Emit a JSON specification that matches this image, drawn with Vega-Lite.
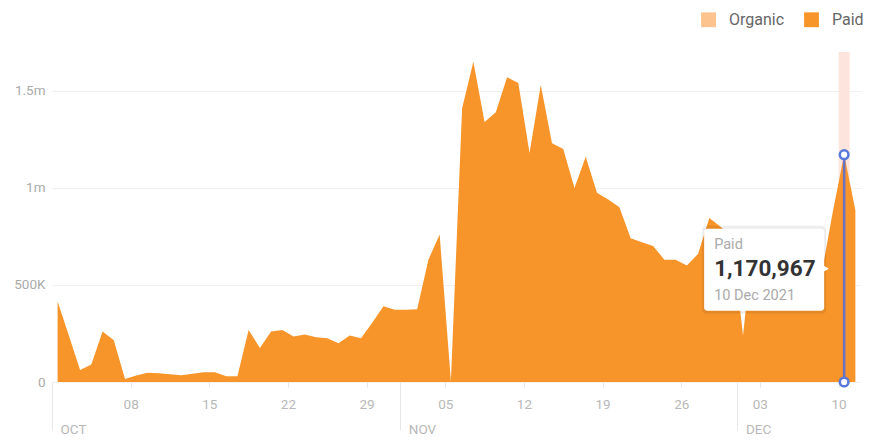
{
  "$schema": "https://vega.github.io/schema/vega-lite/v6.json",
  "width": 809,
  "height": 330,
  "autosize": {"type": "none"},
  "padding": {"left": 52, "top": 52, "right": 20, "bottom": 59},
  "background": "white",
  "config": {
    "view": {"stroke": null},
    "font": "Roboto"
  },
  "datasets": {
    "traffic": [
      {"date": "2021-10-01T12:00", "channel": "Paid", "visits": 415000},
      {"date": "2021-10-02T12:00", "channel": "Paid", "visits": 240000},
      {"date": "2021-10-03T12:00", "channel": "Paid", "visits": 62000},
      {"date": "2021-10-04T12:00", "channel": "Paid", "visits": 90000},
      {"date": "2021-10-05T12:00", "channel": "Paid", "visits": 260000},
      {"date": "2021-10-06T12:00", "channel": "Paid", "visits": 215000},
      {"date": "2021-10-07T12:00", "channel": "Paid", "visits": 15000},
      {"date": "2021-10-08T12:00", "channel": "Paid", "visits": 33000},
      {"date": "2021-10-09T12:00", "channel": "Paid", "visits": 48000},
      {"date": "2021-10-10T12:00", "channel": "Paid", "visits": 45000},
      {"date": "2021-10-11T12:00", "channel": "Paid", "visits": 40000},
      {"date": "2021-10-12T12:00", "channel": "Paid", "visits": 35000},
      {"date": "2021-10-13T12:00", "channel": "Paid", "visits": 42000},
      {"date": "2021-10-14T12:00", "channel": "Paid", "visits": 50000},
      {"date": "2021-10-15T12:00", "channel": "Paid", "visits": 50000},
      {"date": "2021-10-16T12:00", "channel": "Paid", "visits": 30000},
      {"date": "2021-10-17T12:00", "channel": "Paid", "visits": 30000},
      {"date": "2021-10-18T12:00", "channel": "Paid", "visits": 268000},
      {"date": "2021-10-19T12:00", "channel": "Paid", "visits": 175000},
      {"date": "2021-10-20T12:00", "channel": "Paid", "visits": 260000},
      {"date": "2021-10-21T12:00", "channel": "Paid", "visits": 268000},
      {"date": "2021-10-22T12:00", "channel": "Paid", "visits": 235000},
      {"date": "2021-10-23T12:00", "channel": "Paid", "visits": 245000},
      {"date": "2021-10-24T12:00", "channel": "Paid", "visits": 230000},
      {"date": "2021-10-25T12:00", "channel": "Paid", "visits": 225000},
      {"date": "2021-10-26T12:00", "channel": "Paid", "visits": 200000},
      {"date": "2021-10-27T12:00", "channel": "Paid", "visits": 240000},
      {"date": "2021-10-28T12:00", "channel": "Paid", "visits": 225000},
      {"date": "2021-10-29T12:00", "channel": "Paid", "visits": 305000},
      {"date": "2021-10-30T12:00", "channel": "Paid", "visits": 390000},
      {"date": "2021-10-31T12:00", "channel": "Paid", "visits": 372000},
      {"date": "2021-11-01T12:00", "channel": "Paid", "visits": 372000},
      {"date": "2021-11-02T12:00", "channel": "Paid", "visits": 375000},
      {"date": "2021-11-03T12:00", "channel": "Paid", "visits": 630000},
      {"date": "2021-11-04T12:00", "channel": "Paid", "visits": 760000},
      {"date": "2021-11-05T12:00", "channel": "Paid", "visits": 5000},
      {"date": "2021-11-06T12:00", "channel": "Paid", "visits": 1410000},
      {"date": "2021-11-07T12:00", "channel": "Paid", "visits": 1650000},
      {"date": "2021-11-08T12:00", "channel": "Paid", "visits": 1340000},
      {"date": "2021-11-09T12:00", "channel": "Paid", "visits": 1390000},
      {"date": "2021-11-10T12:00", "channel": "Paid", "visits": 1570000},
      {"date": "2021-11-11T12:00", "channel": "Paid", "visits": 1540000},
      {"date": "2021-11-12T12:00", "channel": "Paid", "visits": 1180000},
      {"date": "2021-11-13T12:00", "channel": "Paid", "visits": 1530000},
      {"date": "2021-11-14T12:00", "channel": "Paid", "visits": 1230000},
      {"date": "2021-11-15T12:00", "channel": "Paid", "visits": 1200000},
      {"date": "2021-11-16T12:00", "channel": "Paid", "visits": 1000000},
      {"date": "2021-11-17T12:00", "channel": "Paid", "visits": 1160000},
      {"date": "2021-11-18T12:00", "channel": "Paid", "visits": 975000},
      {"date": "2021-11-19T12:00", "channel": "Paid", "visits": 940000},
      {"date": "2021-11-20T12:00", "channel": "Paid", "visits": 900000},
      {"date": "2021-11-21T12:00", "channel": "Paid", "visits": 740000},
      {"date": "2021-11-22T12:00", "channel": "Paid", "visits": 720000},
      {"date": "2021-11-23T12:00", "channel": "Paid", "visits": 700000},
      {"date": "2021-11-24T12:00", "channel": "Paid", "visits": 630000},
      {"date": "2021-11-25T12:00", "channel": "Paid", "visits": 630000},
      {"date": "2021-11-26T12:00", "channel": "Paid", "visits": 600000},
      {"date": "2021-11-27T12:00", "channel": "Paid", "visits": 660000},
      {"date": "2021-11-28T12:00", "channel": "Paid", "visits": 845000},
      {"date": "2021-11-29T12:00", "channel": "Paid", "visits": 800000},
      {"date": "2021-11-30T12:00", "channel": "Paid", "visits": 750000},
      {"date": "2021-12-01T12:00", "channel": "Paid", "visits": 240000},
      {"date": "2021-12-02T12:00", "channel": "Paid", "visits": 780000},
      {"date": "2021-12-03T12:00", "channel": "Paid", "visits": 720000},
      {"date": "2021-12-04T12:00", "channel": "Paid", "visits": 700000},
      {"date": "2021-12-05T12:00", "channel": "Paid", "visits": 690000},
      {"date": "2021-12-06T12:00", "channel": "Paid", "visits": 700000},
      {"date": "2021-12-07T12:00", "channel": "Paid", "visits": 640000},
      {"date": "2021-12-08T12:00", "channel": "Paid", "visits": 560000},
      {"date": "2021-12-09T12:00", "channel": "Paid", "visits": 880000},
      {"date": "2021-12-10T12:00", "channel": "Paid", "visits": 1170967},
      {"date": "2021-12-11T12:00", "channel": "Paid", "visits": 885000}
    ]
  },
  "data": {"name": "traffic"},
  "layer": [
    {
      "transform": [{"filter": {"timeUnit": "yearmonthdate", "field": "date", "equal": {"year": 2021, "month": 12, "date": 10}}}],
      "mark": {"type": "rule", "color": "#fde4dc", "strokeWidth": 11},
      "encoding": {
        "x": {"field": "date", "type": "temporal", "axis": null}
      }
    },
    {
      "mark": {"type": "area", "interpolate": "linear"},
      "encoding": {
        "x": {
          "field": "date",
          "type": "temporal",
          "scale": {"domain": [{"year": 2021, "month": 10, "date": 1}, {"year": 2021, "month": 12, "date": 12}], "padding": 0},
          "axis": {
            "title": null,
            "orient": "bottom",
            "values": [
              {"year": 2021, "month": 10, "date": 8},
              {"year": 2021, "month": 10, "date": 15},
              {"year": 2021, "month": 10, "date": 22},
              {"year": 2021, "month": 10, "date": 29},
              {"year": 2021, "month": 11, "date": 5},
              {"year": 2021, "month": 11, "date": 12},
              {"year": 2021, "month": 11, "date": 19},
              {"year": 2021, "month": 11, "date": 26},
              {"year": 2021, "month": 12, "date": 3},
              {"year": 2021, "month": 12, "date": 10}
            ],
            "format": "%d",
            "labelColor": "#b8b8b8",
            "labelFontSize": 13.5,
            "labelFlush": false,
            "labelPadding": 10,
            "tickColor": "#e6e6e6",
            "tickSize": 5,
            "domain": false,
            "grid": false
          }
        },
        "y": {
          "field": "visits",
          "type": "quantitative",
          "scale": {"domain": [0, 1700000], "nice": false},
          "axis": {
            "title": null,
            "values": [0, 500000, 1000000, 1500000],
            "labelExpr": "datum.value == 0 ? '0' : datum.value < 1000000 ? format(datum.value / 1000, 'd') + 'K' : format(datum.value / 1000000, '.1~f') + 'm'",
            "labelColor": "#aaaaaa",
            "labelFontSize": 13.5,
            "labelPadding": 7,
            "ticks": false,
            "domain": false,
            "grid": true,
            "gridColor": "#f1f1f1"
          }
        },
        "color": {
          "field": "channel",
          "type": "nominal",
          "scale": {"domain": ["Organic", "Paid"], "range": ["#fdc38e", "#f7942a"]},
          "legend": {
            "title": null,
            "orient": "none",
            "direction": "horizontal",
            "legendX": 648,
            "legendY": -41,
            "symbolType": "square",
            "symbolSize": 220,
            "symbolOpacity": 1,
            "labelFontSize": 16,
            "labelColor": "#666666",
            "labelOffset": 12,
            "columnPadding": 18
          }
        }
      }
    },
    {
      "transform": [{"filter": {"timeUnit": "yearmonthdate", "field": "date", "equal": {"year": 2021, "month": 12, "date": 10}}}],
      "mark": {"type": "bar", "color": "#6a72c6", "size": 2.5},
      "encoding": {
        "x": {
          "field": "date",
          "type": "temporal",
          "axis": {
            "title": null,
            "orient": "bottom",
            "values": [
              {"year": 2021, "month": 10, "date": 1},
              {"year": 2021, "month": 11, "date": 1},
              {"year": 2021, "month": 12, "date": 1}
            ],
            "labelExpr": "upper(timeFormat(datum.value, '%b'))",
            "labelColor": "#b8b8b8",
            "labelFontSize": 13.5,
            "labelAlign": "left",
            "labelBaseline": "middle",
            "labelPadding": -1,
            "labelOffset": 8,
            "labelFlush": false,
            "tickColor": "#e8e8e8",
            "tickSize": 48,
            "domain": false,
            "grid": false
          }
        },
        "y": {"field": "visits", "type": "quantitative"}
      }
    },
    {
      "transform": [{"filter": {"timeUnit": "yearmonthdate", "field": "date", "equal": {"year": 2021, "month": 12, "date": 10}}}],
      "mark": {"type": "point", "filled": true, "fill": "white", "stroke": "#5878dc", "strokeWidth": 2.5, "size": 75, "opacity": 1},
      "encoding": {
        "x": {"field": "date", "type": "temporal", "axis": null},
        "y": {"field": "visits", "type": "quantitative"}
      }
    },
    {
      "transform": [{"filter": {"timeUnit": "yearmonthdate", "field": "date", "equal": {"year": 2021, "month": 12, "date": 10}}}],
      "mark": {"type": "point", "filled": true, "fill": "white", "stroke": "#5878dc", "strokeWidth": 2.5, "size": 75, "opacity": 1},
      "encoding": {
        "x": {"field": "date", "type": "temporal", "axis": null},
        "y": {"datum": 0, "type": "quantitative"}
      }
    },
    {
      "transform": [{"filter": {"timeUnit": "yearmonthdate", "field": "date", "equal": {"year": 2021, "month": 12, "date": 10}}}],
      "mark": {"type": "rect", "color": "#000000", "opacity": 0.07, "cornerRadius": 4, "xOffset": -142, "x2Offset": -18, "yOffset": 71, "y2Offset": 159},
      "encoding": {
        "x": {"field": "date", "type": "temporal", "axis": null},
        "x2": {"field": "date"},
        "y": {"field": "visits", "type": "quantitative"},
        "y2": {"field": "visits"}
      }
    },
    {
      "transform": [{"filter": {"timeUnit": "yearmonthdate", "field": "date", "equal": {"year": 2021, "month": 12, "date": 10}}}],
      "mark": {"type": "rect", "color": "#ffffff", "opacity": 1, "cornerRadius": 3, "xOffset": -140, "x2Offset": -20, "yOffset": 74, "y2Offset": 156},
      "encoding": {
        "x": {"field": "date", "type": "temporal", "axis": null},
        "x2": {"field": "date"},
        "y": {"field": "visits", "type": "quantitative"},
        "y2": {"field": "visits"}
      }
    },
    {
      "transform": [{"filter": {"timeUnit": "yearmonthdate", "field": "date", "equal": {"year": 2021, "month": 12, "date": 10}}}],
      "mark": {"type": "point", "shape": "triangle-right", "filled": true, "color": "#ffffff", "size": 40, "opacity": 1, "xOffset": -18, "yOffset": 114},
      "encoding": {
        "x": {"field": "date", "type": "temporal", "axis": null},
        "y": {"field": "visits", "type": "quantitative"}
      }
    },
    {
      "transform": [{"filter": {"timeUnit": "yearmonthdate", "field": "date", "equal": {"year": 2021, "month": 12, "date": 10}}}],
      "mark": {"type": "text", "align": "left", "baseline": "middle", "dx": -130, "dy": 90, "fontSize": 14.5, "color": "#aaaaaa"},
      "encoding": {
        "x": {"field": "date", "type": "temporal", "axis": null},
        "y": {"field": "visits", "type": "quantitative"},
        "text": {"field": "channel"}
      }
    },
    {
      "transform": [{"filter": {"timeUnit": "yearmonthdate", "field": "date", "equal": {"year": 2021, "month": 12, "date": 10}}}],
      "mark": {"type": "text", "align": "left", "baseline": "middle", "dx": -130, "dy": 114, "fontSize": 22.5, "fontWeight": "bold", "color": "#333333"},
      "encoding": {
        "x": {"field": "date", "type": "temporal", "axis": null},
        "y": {"field": "visits", "type": "quantitative"},
        "text": {"field": "visits", "type": "quantitative", "format": ",d"}
      }
    },
    {
      "transform": [{"filter": {"timeUnit": "yearmonthdate", "field": "date", "equal": {"year": 2021, "month": 12, "date": 10}}}],
      "mark": {"type": "text", "align": "left", "baseline": "middle", "dx": -130, "dy": 141, "fontSize": 14.5, "color": "#aaaaaa"},
      "encoding": {
        "x": {"field": "date", "type": "temporal", "axis": null},
        "y": {"field": "visits", "type": "quantitative"},
        "text": {"field": "date", "type": "temporal", "format": "%d %b %Y"}
      }
    }
  ],
  "resolve": {"axis": {"x": "independent"}}
}
